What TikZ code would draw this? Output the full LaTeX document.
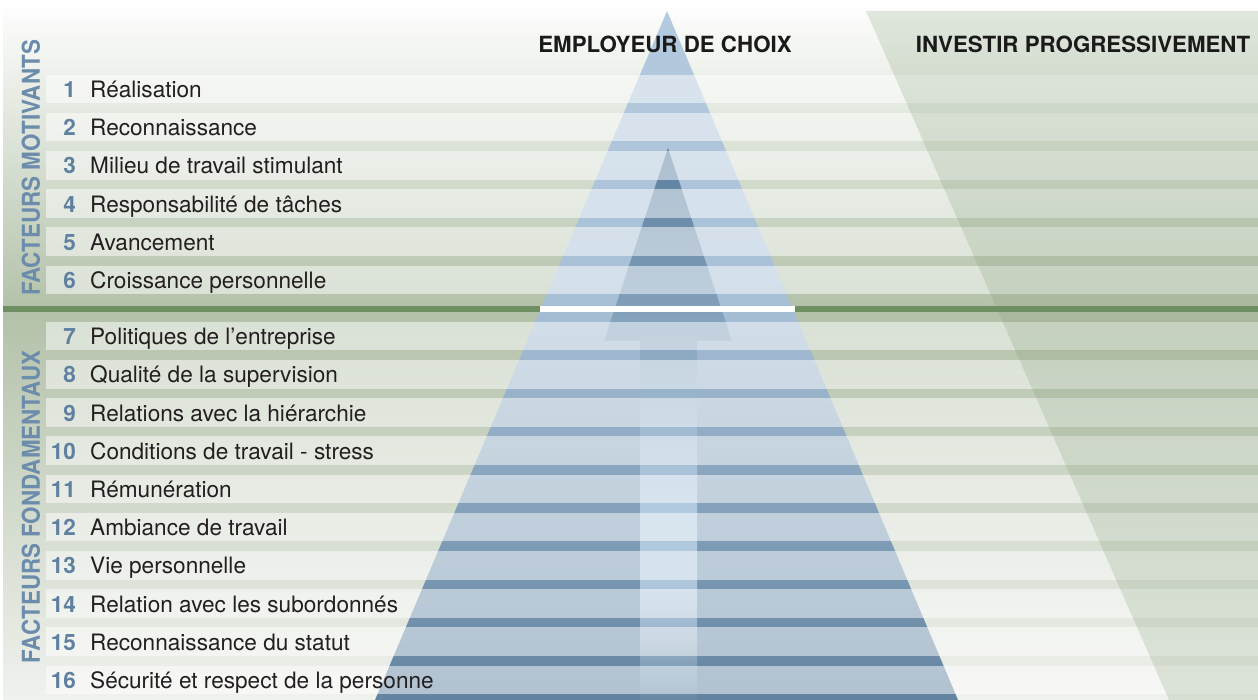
\documentclass[tikz,border=0pt]{standalone}
\usepackage{fontspec}
\setmainfont{TeX Gyre Heros}
\definecolor{bgmid}{HTML}{B3C1A9}
\definecolor{bgbot}{HTML}{F0F2EE}
\definecolor{pyrtop}{HTML}{B4CADF}
\definecolor{pyrmid}{HTML}{A8C0D6}
\definecolor{pyrbot}{HTML}{6384A1}
\definecolor{arrA}{HTML}{5B7E9F}
\definecolor{arrB}{HTML}{85A2BC}
\definecolor{arrC}{HTML}{9AB5CC}
\definecolor{arrD}{HTML}{B2CADF}
\definecolor{arrE}{HTML}{AFC7DC}
\definecolor{arrF}{HTML}{98B2C9}
\definecolor{arrG}{HTML}{6586A2}
\definecolor{divgreen}{HTML}{6E8F62}
\definecolor{trapgreen}{HTML}{7F9A73}
\definecolor{numblue}{HTML}{5F80A0}
\definecolor{labblue}{HTML}{6C8CAC}
\definecolor{txt}{HTML}{231F20}
\definecolor{headtxt}{HTML}{1A1A1A}
\begin{document}
\begin{tikzpicture}[x=1pt,y=-1pt,
  band/.style={fill=white, fill opacity=0.5},
  numlbl/.style={anchor=base east, text=numblue, font=\fontsize{22.5}{26}\selectfont\bfseries, inner sep=0pt},
  rowlbl/.style={anchor=base west, text=txt, font=\fontsize{22.6}{26}\selectfont, inner sep=0pt},
  headlbl/.style={anchor=base, text=headtxt, font=\fontsize{22.3}{26}\selectfont\bfseries, inner sep=0pt},
  sidelbl/.style={rotate=90, text=labblue, font=\fontsize{22.4}{26}\selectfont\bfseries, inner sep=0pt, yscale=1.1}
]
\useasboundingbox (0,0) rectangle (1258,700);
% background gradient
\fill[white] (0,0) rectangle (1258,700);
\shade[top color=white, bottom color=bgmid] (3,0) rectangle (1258,309.5);
\shade[top color=bgmid, bottom color=bgbot] (3,309) rectangle (1258,700);
% pyramid
\coordinate (pA) at (667,11);
\coordinate (pL) at (375,700);
\coordinate (pR) at (958,700);
\begin{scope}
  \clip (pA) -- (pR) -- (pL) -- cycle;
  \shade[top color=pyrtop, bottom color=pyrmid] (300,10) rectangle (1000,300.5);
  \shade[top color=pyrmid, bottom color=pyrbot] (300,300) rectangle (1000,701);
\end{scope}
% arrow
\coordinate (aT) at (668,148);
\coordinate (aHR) at (732,341);
\coordinate (aHL) at (604,341);
\coordinate (aSR) at (697,341);
\coordinate (aSL) at (640,341);
\coordinate (aBR) at (697,700);
\coordinate (aBL) at (640,700);
\begin{scope}
  \clip (aT) -- (aHR) -- (aSR) -- (aBR) -- (aBL) -- (aSL) -- (aHL) -- cycle;
  \shade[top color=arrA, bottom color=arrB] (590,147) rectangle (740,320.5);
  \shade[top color=arrB, bottom color=arrC] (590,320) rectangle (740,400.5);
  \shade[top color=arrC, bottom color=arrD] (590,400) rectangle (740,510.5);
  \shade[top color=arrD, bottom color=arrE] (590,510) rectangle (740,590.5);
  \shade[top color=arrE, bottom color=arrF] (590,590) rectangle (740,640.5);
  \shade[top color=arrF, bottom color=arrG] (590,640) rectangle (740,701);
\end{scope}
% light row bands
\foreach \i in {1,...,16}{
  \pgfmathsetmacro{\yc}{\i<7 ? 89+38.2*(\i-1) : 336+38.2*(\i-7)}
  \fill[band] (46,\yc-14.3) rectangle (1258,\yc+14.3);
}
% right trapezoid
\fill[trapgreen, fill opacity=0.22] (866,11) -- (1258,11) -- (1258,700) -- (1169,700) -- cycle;
% divider
\fill[divgreen] (3,306) rectangle (1258,312);
\fill[white] (540,306) rectangle (795,312);
% headers
\node[headlbl] (emp) at (665,53) {EMPLOYEUR DE CHOIX};
\node[headlbl] (inv) at (1083,53) {INVESTIR PROGRESSIVEMENT};
% side labels
\node[sidelbl] (fm) at (31,168) {FACTEURS MOTIVANTS};
\node[sidelbl] (ff) at (31,507) {FACTEURS FONDAMENTAUX};
% rows
\foreach \i/\t in {1/Réalisation, 2/Reconnaissance, 3/Milieu de travail stimulant,
  4/Responsabilité de tâches, 5/Avancement, 6/Croissance personnelle,
  7/Politiques de l’entreprise, 8/Qualité de la supervision,
  9/Relations avec la hiérarchie, 10/Conditions de travail - stress,
  11/Rémunération, 12/Ambiance de travail, 13/Vie personnelle,
  14/Relation avec les subordonnés, 15/Reconnaissance du statut,
  16/Sécurité et respect de la personne}{
  \pgfmathsetmacro{\yc}{\i<7 ? 89+38.2*(\i-1) : 336+38.2*(\i-7)}
  \node[numlbl] (n\i) at (76,\yc+8.6) {\i};
  \node[rowlbl] (t\i) at (90,\yc+8.6) {\t};
}
\end{tikzpicture}
\end{document}
